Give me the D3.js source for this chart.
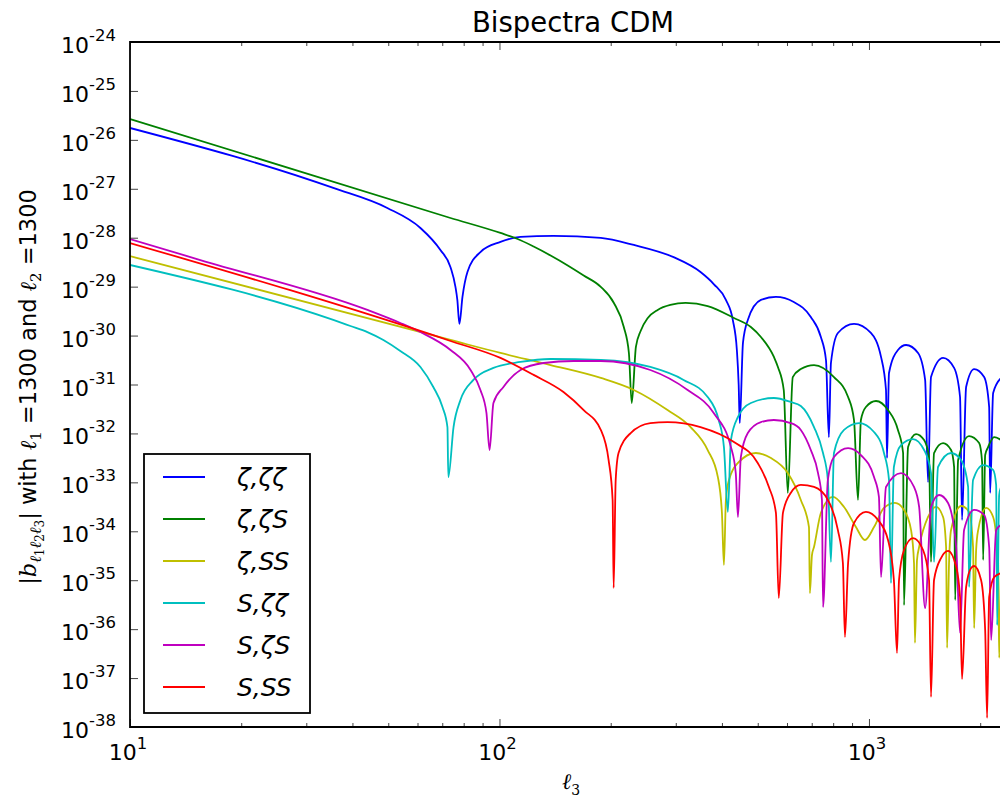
<!DOCTYPE html>
<html>
<head>
<meta charset="utf-8">
<script src="https://cdn.jsdelivr.net/npm/d3@7"></script>
<style>
  body { margin: 0; background: #fff; }
  text { font-family: "DejaVu Sans", sans-serif; }
</style>
</head>
<body>
<div id="chart"></div>
<script>
// |b_l1l2l3| against l3 as [l3, |b|]
var zZZ = [[10,1.75e-26],[35.5,1.04e-27],[49.7,4.05e-28],[61.1,1.58e-28],[69.2,5.6e-29],[73.7,2.5e-29],[76.0,9.9e-30],[76.9,5.35e-30],[77.9,1.73e-30],[79.4,6.15e-30],[81.9,1.99e-29],[88.8,5.1e-29],[100.6,8.2e-29],[114,1.04e-28],[140,1.09e-28],[188,9.9e-29],[231,7.1e-29],[296,4.0e-29],[350,1.99e-29],[380,1.13e-29],[410,5.35e-30],[428,2.09e-30],[439,5.08e-31],[444,9.77e-32],[447,1.63e-32],[456,7.06e-31],[470,2.09e-30],[510,5.35e-30],[560,6.15e-30],[626,4.86e-30],[696,2.40e-30],[741,9.36e-31],[765,3.17e-31],[779,8.4e-33],[789,2.75e-31],[824,1.13e-30],[911,1.73e-30],[1012,1.13e-30],[1078,3.66e-31],[1112,7.72e-32],[1119,3.14e-33],[1133,1.72e-31],[1198,5.08e-31],[1260,6.42e-31],[1358,4.41e-31],[1419,1.24e-31],[1445,1.01e-33],[1472,1.42e-31],[1587,3.49e-31],[1700,2.18e-31],[1764,5.55e-32],[1786,1.70e-34],[1832,8.9e-32],[1926,2.07e-31],[2050,1.42e-31],[2115,3.47e-32],[2128,6.07e-34],[2168,6.7e-32],[2279,1.36e-31]];

var zZS = [[10,2.67e-26],[73.7,2.53e-28],[100.6,1.25e-28],[112,9.4e-29],[123.7,6.6e-29],[137.5,4.33e-29],[153,2.71e-29],[169,1.69e-29],[188,9.9e-30],[204,4.64e-30],[217,1.50e-30],[224,4.41e-31],[228,4.19e-32],[234,5.85e-31],[241,1.24e-30],[252,2.29e-30],[268,3.34e-30],[290,4.22e-30],[319,4.64e-30],[366,4.0e-30],[431,2.29e-30],[479,1.50e-30],[510,9.36e-31],[553,3.66e-31],[567,2.28e-31],[588,7.72e-32],[603,6.07e-34],[622,1.42e-31],[654,2.07e-31],[710,2.5e-31],[804,1.42e-31],[878,5.55e-32],[911,1.88e-32],[934,4.37e-34],[951,1.88e-32],[981,3.47e-32],[1045,4.60e-32],[1126,3.0e-32],[1198,1.18e-32],[1237,3.98e-33],[1244,3.11e-36],[1276,5.27e-33],[1341,9.7e-33],[1410,7.3e-33],[1454,3.29e-33],[1472,2.36e-35],[1500,3.98e-33],[1587,6.36e-33],[1668,4.58e-33],[1700,2.06e-33],[1711,3.94e-36],[1743,2.86e-33],[1866,8.85e-33],[1987,6.36e-33],[2024,2.6e-33],[2037,2.59e-35],[2063,3.62e-33],[2101,5.27e-33],[2182,8.4e-33],[2279,7.3e-33]];

var zSS = [[10,4.22e-29],[73.7,8.13e-31],[100.6,4.41e-31],[137.5,2.5e-31],[188,1.36e-31],[231,7.72e-32],[285,3.0e-32],[329,1.35e-32],[366,4.58e-33],[390,1.28e-33],[400,2.37e-34],[405,2.05e-35],[410,4.37e-34],[418,1.12e-33],[442,2.49e-33],[494,3.98e-33],[543,3.14e-33],[603,1.55e-33],[654,4.37e-34],[688,1.22e-34],[692,5.47e-36],[701,3.27e-35],[710,4.77e-35],[741,2.37e-34],[799,5.03e-34],[856,3.14e-34],[922,1.22e-34],[975,6.64e-35],[1032,1.22e-34],[1098,3.0e-34],[1176,3.79e-34],[1244,2.73e-34],[1300,1.06e-34],[1324,2.25e-35],[1332,5.22e-37],[1349,2.59e-35],[1367,4.77e-35],[1445,1.96e-34],[1519,3.14e-34],[1587,1.96e-34],[1617,4.77e-35],[1627,4.13e-37],[1648,2.59e-35],[1668,1.06e-34],[1776,3.29e-34],[1866,2.49e-34],[1913,4.77e-35],[1926,1.05e-36],[1950,4.15e-35],[1975,1.06e-34],[2076,3.0e-34],[2168,1.96e-34],[2237,2.25e-35],[2251,2.58e-37],[2279,2.59e-35]];

var sZZ = [[10,2.77e-29],[35.5,2.09e-30],[39.5,1.57e-30],[43.9,1.18e-30],[48.5,8.13e-31],[53.9,4.84e-31],[61.1,2.28e-31],[66.2,8.9e-32],[70.1,3.47e-32],[72.3,1.35e-32],[72.7,1.28e-33],[75.1,1.35e-32],[78.4,4.82e-32],[85.0,1.24e-31],[96.3,2.18e-31],[114,2.89e-31],[137.5,3.32e-31],[188,3.17e-31],[256,2.28e-31],[315,1.24e-31],[366,5.55e-32],[392,1.88e-32],[405,5.27e-33],[415,2.49e-34],[423,7.3e-33],[442,2.17e-32],[479,4.19e-32],[553,5.30e-32],[614,4.39e-32],[654,3.64e-32],[710,1.35e-32],[751,3.98e-33],[774,1.12e-33],[789,2.36e-35],[804,3.98e-33],[856,1.18e-32],[940,1.63e-32],[1032,1.07e-32],[1098,3.98e-33],[1133,1.12e-33],[1147,8.76e-36],[1168,2.06e-33],[1221,5.79e-33],[1316,7.68e-33],[1410,4.58e-33],[1472,1.55e-33],[1500,2.36e-35],[1538,2.06e-33],[1668,3.98e-33],[1776,2.86e-33],[1855,8.05e-34],[1866,7.26e-36],[1913,1.12e-33],[2037,2.26e-33],[2168,1.79e-33],[2209,8.85e-34],[2223,1.21e-36],[2251,5.5e-34],[2279,8.05e-34]];

var sZS = [[10,9.4e-29],[15.5,3.5e-29],[43.9,3.34e-30],[53.9,1.81e-30],[61.1,1.18e-30],[73.7,5.08e-31],[83.5,1.98e-31],[88.8,7.72e-32],[92.2,2.62e-32],[94.0,4.58e-33],[96.3,4.19e-32],[102.5,8.9e-32],[114,1.98e-31],[131.6,2.75e-31],[158.7,3.02e-31],[188,3.02e-31],[256,1.98e-31],[323,7.72e-32],[380,2.62e-32],[423,5.27e-33],[436,1.55e-33],[442,1.96e-34],[450,3.29e-33],[470,1.02e-32],[510,1.71e-32],[553,1.88e-32],[614,1.63e-32],[654,1.18e-32],[696,4.58e-33],[728,1.55e-33],[746,4.37e-34],[751,2.83e-36],[774,1.12e-33],[804,3.29e-33],[878,5.03e-33],[951,3.62e-33],[1032,1.28e-33],[1064,5.03e-34],[1078,1.16e-35],[1112,8.05e-34],[1221,1.55e-33],[1324,8.05e-34],[1367,3.14e-34],[1419,2.70e-36],[1472,3.14e-34],[1548,5.52e-34],[1637,3.79e-34],[1722,4.77e-35],[1764,8.4e-37],[1809,1.06e-34],[1926,2.73e-34],[2050,2.16e-34],[2115,4.77e-35],[2141,6.0e-37],[2209,1.06e-34],[2279,1.35e-34]];

var sSS = [[10,7.8e-29],[73.7,7.75e-31],[100.6,3.49e-31],[123.7,1.57e-31],[149,7.03e-32],[169,3.0e-32],[188,1.18e-32],[197.4,2.86e-33],[202.4,4.37e-34],[203.7,6.93e-36],[206.3,1.12e-33],[210,3.98e-33],[226.5,1.02e-32],[256,1.63e-32],[285,1.71e-32],[350,1.35e-32],[431,6.68e-33],[500,2.49e-33],[536,8.05e-34],[560,2.37e-34],[570,4.33e-36],[585,2.37e-34],[614,6.07e-34],[654,8.85e-34],[710,8.05e-34],[774,4.37e-34],[824,1.06e-34],[850,2.25e-35],[861,6.93e-37],[878,2.25e-35],[911,1.48e-34],[981,2.49e-34],[1058,1.70e-34],[1126,6.64e-35],[1168,1.01e-35],[1191,3.26e-37],[1206,1.01e-35],[1244,4.15e-35],[1316,7.28e-35],[1401,4.15e-35],[1454,1.01e-35],[1472,4.11e-38],[1500,1.01e-35],[1567,2.84e-35],[1637,3.96e-35],[1722,1.87e-35],[1764,4.54e-36],[1786,9.58e-38],[1832,7.26e-36],[1890,1.78e-35],[1926,1.95e-35],[2011,1.01e-35],[2063,9.6e-37],[2088,1.53e-38],[2115,4.54e-36],[2182,1.16e-35],[2279,1.40e-35]];

var labels = ["ζ,ζζ", "ζ,ζS", "ζ,SS", "S,ζζ", "S,ζS", "S,SS"];
var colors = ["#0000ff", "#008000", "#bfbf00", "#00bfbf", "#bf00bf", "#ff0000"];
var xMajor = [10, 100, 1000];
var xMinor = [20,30,40,50,60,70,80,90,200,300,400,500,600,700,800,900,2000];
var yExps = d3.range(-38, -23);

var series = [zZZ, zZS, zSS, sZZ, sZS, sSS];

var width = 1000, height = 797;
// axes box; its right side runs past the window edge
var box = { left: 130, top: 42, bottom: 727, right: 1016 };

var x = d3.scaleLog().domain([10, 2500]).range([box.left, box.right]);
var y = d3.scaleLog().domain([1e-38, 1e-24]).range([box.bottom, box.top]);

var svg = d3.select("#chart").append("svg")
  .attr("width", width)
  .attr("height", height);

svg.append("defs").append("clipPath")
  .attr("id", "clip")
  .append("rect")
  .attr("x", box.left).attr("y", box.top)
  .attr("width", box.right - box.left).attr("height", box.bottom - box.top);

// curves
var line = d3.line()
  .x(function (d) { return x(d[0]); })
  .y(function (d) { return y(d[1]); })
  .curve(d3.curveMonotoneX);

svg.append("g")
  .attr("clip-path", "url(#clip)")
  .selectAll("path")
  .data(series)
  .enter()
  .append("path")
  .attr("d", line)
  .attr("fill", "none")
  .attr("stroke", function (d, i) { return colors[i]; })
  .attr("stroke-width", 1.8)
  .attr("stroke-linejoin", "round");

// ticks (inward, matplotlib style)
function noDomain(g) {
  g.select(".domain").remove();
  g.selectAll(".tick line").attr("stroke", "#444");
}
svg.append("g").attr("transform", "translate(0," + box.bottom + ")")
  .call(d3.axisBottom(x).tickValues(xMinor).tickSize(-4).tickFormat(""))
  .call(noDomain);
svg.append("g").attr("transform", "translate(0," + box.bottom + ")")
  .call(d3.axisBottom(x).tickValues(xMajor).tickSize(-8).tickFormat(""))
  .call(noDomain);
svg.append("g").attr("transform", "translate(0," + box.top + ")")
  .call(d3.axisTop(x).tickValues(xMinor).tickSize(-4).tickFormat(""))
  .call(noDomain);
svg.append("g").attr("transform", "translate(0," + box.top + ")")
  .call(d3.axisTop(x).tickValues(xMajor).tickSize(-8).tickFormat(""))
  .call(noDomain);
svg.append("g").attr("transform", "translate(" + box.left + ",0)")
  .call(d3.axisLeft(y).tickValues(yExps.map(function (e) { return Math.pow(10, e); })).tickSize(-8).tickFormat(""))
  .call(noDomain);

// frame
var frame = svg.append("g").attr("stroke", "#000").attr("stroke-width", 1.8);
frame.append("line").attr("x1", box.left).attr("x2", box.left).attr("y1", box.top - 0.9).attr("y2", box.bottom + 0.9);
frame.append("line").attr("x1", box.left).attr("x2", box.right).attr("y1", box.top).attr("y2", box.top);
frame.append("line").attr("x1", box.left).attr("x2", box.right).attr("y1", box.bottom).attr("y2", box.bottom);

// tick labels  10^n
svg.append("g").selectAll("text")
  .data(xMajor)
  .enter()
  .append("text")
  .attr("x", function (d) { return x(d) - 2; })
  .attr("y", 760)
  .attr("text-anchor", "middle")
  .attr("font-size", 22)
  .each(function (d) {
    var t = d3.select(this);
    t.append("tspan").text("10");
    t.append("tspan").attr("dy", -11).attr("font-size", 16.5).text(Math.round(Math.log10(d)));
  });

svg.append("g").selectAll("text")
  .data(yExps)
  .enter()
  .append("text")
  .attr("x", 116)
  .attr("y", function (d) { return y(Math.pow(10, d)) + 11; })
  .attr("text-anchor", "end")
  .attr("font-size", 22)
  .each(function (d) {
    var t = d3.select(this);
    t.append("tspan").text("10");
    t.append("tspan").attr("dy", -12).attr("font-size", 16.5).text("-" + (-d));
  });

// title
svg.append("text")
  .attr("x", 573).attr("y", 32)
  .attr("text-anchor", "middle")
  .attr("font-size", 27.5)
  .text("Bispectra CDM");

// rich text helper: parts carry a baseline offset
function rich(sel, parts) {
  var prev = 0;
  parts.forEach(function (p) {
    var ts = sel.append("tspan").text(p.t).attr("dy", (p.off || 0) - prev);
    prev = p.off || 0;
    if (p.size) ts.attr("font-size", p.size);
    if (p.serif) ts.attr("font-family", "DejaVu Serif, serif");
    if (p.it) ts.attr("font-style", "italic");
  });
}

// x label
rich(svg.append("text")
  .attr("x", 571).attr("y", 789)
  .attr("text-anchor", "middle")
  .attr("font-size", 22), [
  { t: "ℓ", serif: true, it: true },
  { t: "3", off: 6, size: 14, serif: true }
]);

// y label
rich(svg.append("text")
  .attr("transform", "translate(36,387) rotate(-90)")
  .attr("text-anchor", "middle")
  .attr("font-size", 22.5), [
  { t: "|", serif: true },
  { t: "b", serif: true, it: true },
  { t: "ℓ", off: 5, size: 16, serif: true, it: true },
  { t: "1", off: 8, size: 12, serif: true },
  { t: "ℓ", off: 5, size: 16, serif: true, it: true },
  { t: "2", off: 8, size: 12, serif: true },
  { t: "ℓ", off: 5, size: 16, serif: true, it: true },
  { t: "3", off: 8, size: 12, serif: true },
  { t: "|", off: 0, serif: true },
  { t: " with " },
  { t: "ℓ", serif: true, it: true },
  { t: "1", off: 5, size: 15, serif: true },
  { t: " =1300 and ", off: 0 },
  { t: "ℓ", serif: true, it: true },
  { t: "2", off: 5, size: 15, serif: true },
  { t: " =1300", off: 0 }
]);

// legend
var legend = svg.append("g");
legend.append("rect")
  .attr("x", 144).attr("y", 454)
  .attr("width", 166).attr("height", 259)
  .attr("fill", "#fff")
  .attr("stroke", "#000")
  .attr("stroke-width", 1.8);

var entry = legend.selectAll("g.entry")
  .data(labels)
  .enter()
  .append("g")
  .attr("class", "entry")
  .attr("transform", function (d, i) { return "translate(0," + (477 + 42 * i) + ")"; });

entry.append("line")
  .attr("x1", 163).attr("x2", 205)
  .attr("stroke", function (d, i) { return colors[i]; })
  .attr("stroke-width", 1.8);

entry.append("text")
  .attr("x", 237).attr("y", 9)
  .attr("font-family", "DejaVu Serif, serif")
  .attr("font-style", "italic")
  .attr("font-size", 25)
  .text(function (d) { return d; });
</script>
</body>
</html>
